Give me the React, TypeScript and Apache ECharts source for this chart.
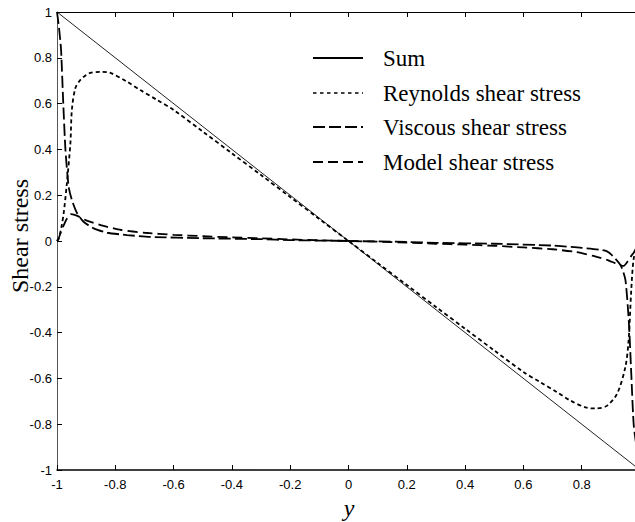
import React, { useEffect, useRef } from "react";
import * as echarts from "echarts";

// ---- data ----
const sumX = [-1, 1];
const sumY = [1, -1];

const reynoldsX = [-1, -0.994, -0.985, -0.977, -0.966, -0.954, -0.949, -0.937, -0.92, -0.9, -0.886, -0.851, -0.817, -0.76, -0.714, -0.657, -0.6, -0.5, -0.4, -0.3, -0.2, -0.1, 0, 0.1, 0.2, 0.3, 0.4, 0.5, 0.6, 0.657, 0.714, 0.76, 0.817, 0.847, 0.886, 0.922, 0.95, 0.961, 0.97, 0.978, 0.99, 1];
const reynoldsY = [0, 0.01, 0.06, 0.122, 0.253, 0.428, 0.572, 0.668, 0.703, 0.725, 0.734, 0.739, 0.734, 0.696, 0.659, 0.616, 0.572, 0.478, 0.383, 0.288, 0.192, 0.096, 0, -0.096, -0.192, -0.288, -0.383, -0.478, -0.572, -0.616, -0.659, -0.696, -0.728, -0.731, -0.72, -0.665, -0.549, -0.432, -0.214, -0.08, -0.02, 0];

const viscousX = [-1, -0.993, -0.986, -0.979, -0.971, -0.96, -0.949, -0.931, -0.909, -0.874, -0.828, -0.76, -0.68, -0.5, -0.3, -0.2, -0.1, 0, 0.1, 0.2, 0.3, 0.5, 0.7, 0.8, 0.887, 0.933, 0.95, 0.962, 0.97, 0.979, 1];
const viscousY = [1, 0.93, 0.834, 0.616, 0.397, 0.237, 0.179, 0.121, 0.084, 0.055, 0.036, 0.026, 0.018, 0.012, 0.008, 0.004, 0.002, 0, -0.002, -0.004, -0.008, -0.012, -0.02, -0.03, -0.045, -0.105, -0.17, -0.359, -0.578, -0.811, -1];

const modelX = [-1, -0.995, -0.98, -0.965, -0.952, -0.93, -0.9, -0.84, -0.78, -0.7, -0.6, -0.5, -0.4, -0.3, -0.2, -0.1, 0, 0.1, 0.2, 0.3, 0.4, 0.5, 0.6, 0.7, 0.78, 0.84, 0.887, 0.92, 0.944, 0.96, 0.97, 0.978, 1];
const modelY = [0, 0.01, 0.06, 0.1, 0.117, 0.11, 0.09, 0.066, 0.048, 0.036, 0.027, 0.021, 0.016, 0.012, 0.007, 0.003, 0, -0.003, -0.007, -0.012, -0.016, -0.021, -0.028, -0.036, -0.048, -0.065, -0.082, -0.1, -0.109, -0.085, -0.065, -0.052, 0];

const legendNames = ["Sum", "Reynolds shear stress", "Viscous shear stress", "Model shear stress"];
const yTitle = "Shear stress";
const xTitle = "y";

const pairs = (xs: number[], ys: number[]) => xs.map((x, i) => [x, ys[i]]);

export default function App() {
  const ref = useRef<HTMLDivElement>(null);
  useEffect(() => {
    document.body.style.margin = "0";
    if (!ref.current) return;
    const chart = echarts.init(ref.current, undefined, { renderer: "svg" });
    const tickFont = { fontFamily: "Liberation Sans", fontSize: 13, color: "#000" };
    const serif = "Liberation Serif";
    const legendRows = [58, 93, 127, 162];
    const legendDash: (number[] | null)[] = [null, [3.5, 3.5], [12, 4], [10, 5]];
    const legendWidth = [2, 1.5, 2, 2];
    const graphics: any[] = [];
    legendNames.forEach((name, i) => {
      graphics.push({
        type: "line",
        shape: { x1: 313, y1: legendRows[i], x2: 363, y2: legendRows[i] },
        style: { stroke: "#000", lineWidth: legendWidth[i], lineDash: legendDash[i] || undefined },
      });
      graphics.push({
        type: "text",
        x: 383,
        y: legendRows[i],
        style: { text: name, fontFamily: serif, fontSize: 23, fill: "#000", verticalAlign: "middle", align: "left" },
      });
    });
    graphics.push({
      type: "text",
      x: 20,
      y: 236,
      rotation: Math.PI / 2,
      style: { text: yTitle, fontFamily: serif, fontSize: 24, fill: "#000", align: "center", verticalAlign: "middle" },
    });
    graphics.push({
      type: "text",
      x: 349,
      y: 508,
      style: { text: xTitle, fontFamily: serif, fontStyle: "italic", fontSize: 24, fill: "#000", align: "center", verticalAlign: "middle" },
    });

    const axisBase = {
      type: "value" as const,
      min: -1,
      max: 1,
      interval: 0.2,
      splitLine: { show: false },
      axisTick: { inside: true, length: 5, lineStyle: { color: "#000" } },
    };

    chart.setOption({
      animation: false,
      backgroundColor: "#fff",
      grid: { left: 57, top: 12, right: -5, bottom: 52, outerBoundsMode: "none", containLabel: false },
      xAxis: [
        {
          ...axisBase,
          position: "bottom",
          axisLine: { onZero: false, lineStyle: { color: "#000", width: 1.5 } },
          axisLabel: { ...tickFont, margin: 8, showMaxLabel: false, formatter: (v: number) => String(Math.round(v * 10) / 10) },
        },
        {
          ...axisBase,
          position: "top",
          axisLine: { onZero: false, lineStyle: { color: "#000", width: 1 } },
          axisLabel: { show: false },
        },
      ],
      yAxis: [
        {
          ...axisBase,
          position: "left",
          axisLine: { show: true, onZero: false, lineStyle: { color: "#555", width: 1 } },
          axisLabel: { ...tickFont, margin: 5, formatter: (v: number) => String(Math.round(v * 10) / 10) },
        },
      ],
      series: [
        {
          name: legendNames[0],
          type: "line",
          data: pairs(sumX, sumY),
          showSymbol: false,
          symbol: "none",
          lineStyle: { color: "#222", width: 1, type: "solid" },
        },
        {
          name: legendNames[1],
          type: "line",
          data: pairs(reynoldsX, reynoldsY),
          showSymbol: false,
          symbol: "none",
          smooth: 0.3,
          lineStyle: { color: "#000", width: 1.8, type: [4, 3] },
        },
        {
          name: legendNames[2],
          type: "line",
          data: pairs(viscousX, viscousY),
          showSymbol: false,
          symbol: "none",
          smooth: 0.2,
          lineStyle: { color: "#000", width: 1.8, type: [12, 4] },
        },
        {
          name: legendNames[3],
          type: "line",
          data: pairs(modelX, modelY),
          showSymbol: false,
          symbol: "none",
          smooth: 0.2,
          lineStyle: { color: "#000", width: 1.8, type: [10, 5] },
        },
      ],
      graphic: graphics,
    });
    return () => chart.dispose();
  }, []);
  return <div ref={ref} style={{ width: 635, height: 522, position: "absolute", left: 0, top: 0 }} />;
}
